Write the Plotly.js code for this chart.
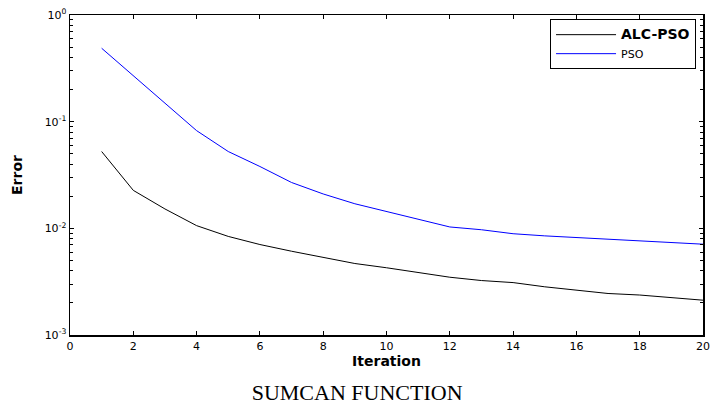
<!DOCTYPE html>
<html>
<head>
<meta charset="utf-8">
<script src="https://cdn.plot.ly/plotly-3.0.1.min.js"></script>
<style>html,body{margin:0;padding:0;background:#fff;}#chart{width:710px;height:412px;}</style>
</head>
<body>
<div id="chart"></div>
<script>
// Data
const iterations = [1,2,3,4,5,6,7,8,9,10,11,12,13,14,15,16,17,18,19,20];
const alcPsoError = [0.0525,0.0227,0.0152,0.0106,0.0084,0.00705,0.0061,0.00536,0.00468,0.00427,0.00383,0.00348,0.00324,0.0031,0.00283,0.00263,0.00245,0.00237,0.00223,0.00212];
const psoError = [0.488,0.27,0.147,0.0824,0.0525,0.038,0.0269,0.021,0.017,0.0144,0.012,0.0103,0.0097,0.0089,0.0085,0.0082,0.0079,0.0077,0.0074,0.0071];
const seriesNames = ['<span style="font-size:14px;font-weight:bold">ALC-PSO</span>', 'PSO'];
const yTickVals = [1, 0.1, 0.01, 0.001];
const yTickText = ['10<sup>0</sup>', '10<sup>-1</sup>', '10<sup>-2</sup>', '10<sup>-3</sup>'];
const yMinorTickVals = [0.002,0.003,0.004,0.005,0.006,0.007,0.008,0.009,
                        0.02,0.03,0.04,0.05,0.06,0.07,0.08,0.09,
                        0.2,0.3,0.4,0.5,0.6,0.7,0.8,0.9];
const xTickVals = [0,2,4,6,8,10,12,14,16,18,20];
const chartTitle = 'SUMCAN FUNCTION';
const xTitle = 'Iteration';
const yTitle = 'Error';

const traces = [
  {x: iterations, y: alcPsoError, name: seriesNames[0], mode: 'lines', line: {color: '#000000', width: 1}},
  {x: iterations, y: psoError, name: seriesNames[1], mode: 'lines', line: {color: '#0000ff', width: 1}}
];

const axisFont = {family: 'DejaVu Sans, Arial, sans-serif', size: 11, color: '#000'};

const layout = {
  width: 710, height: 412,
  paper_bgcolor: '#ffffff', plot_bgcolor: '#ffffff',
  margin: {l: 70, r: 7, t: 15, b: 76.5, pad: 0},
  showlegend: true,
  title: {
    text: chartTitle,
    font: {family: 'Liberation Serif, Times New Roman, serif', size: 22, color: '#000'},
    x: 0.503, xref: 'container', xanchor: 'center',
    y: 0.03, yref: 'container', yanchor: 'bottom'
  },
  legend: {
    x: 0.989, xanchor: 'right', y: 0.987, yanchor: 'top',
    bgcolor: '#ffffff', bordercolor: '#000000', borderwidth: 1,
    font: {family: 'DejaVu Sans, Arial, sans-serif', size: 11, color: '#000'},
    tracegroupgap: 0, itemwidth: 60
  },
  xaxis: {
    range: [0, 20], tickvals: xTickVals, ticks: 'inside', ticklen: 4, tickcolor: '#000',
    showline: true, linecolor: '#000', linewidth: 1.5, mirror: 'ticks',
    showgrid: false, zeroline: false, tickfont: axisFont,
    title: {text: '<b>' + xTitle + '</b>', font: {family: 'DejaVu Sans, Arial, sans-serif', size: 14, color: '#000'}, standoff: 0}
  },
  yaxis: {
    type: 'log', range: [-3, 0], tickvals: yTickVals, ticktext: yTickText,
    ticks: 'inside', ticklen: 4, tickcolor: '#000',
    minor: {tickvals: yMinorTickVals, ticks: 'inside', ticklen: 3, tickcolor: '#000', showgrid: false},
    showline: true, linecolor: '#000', linewidth: 1.5, mirror: 'ticks',
    showgrid: false, zeroline: false, tickfont: axisFont,
    title: {text: '<b>' + yTitle + '</b>', font: {family: 'DejaVu Sans, Arial, sans-serif', size: 14, color: '#000'}, standoff: 18}
  }
};

Plotly.newPlot('chart', traces, layout, {displayModeBar: false, staticPlot: true});
</script>
</body>
</html>
